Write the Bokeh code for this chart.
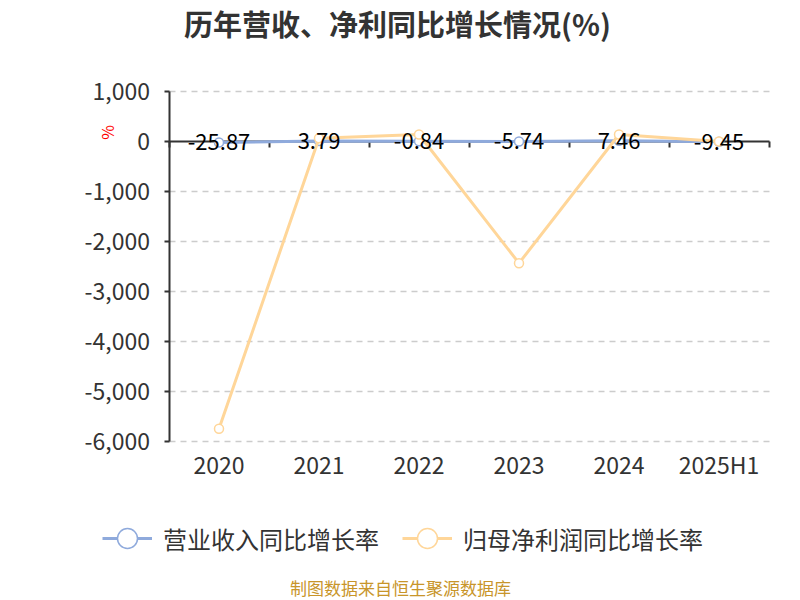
import math
from bokeh.plotting import figure
from bokeh.models import (ColumnDataSource, Range1d, FixedTicker, NumeralTickFormatter,
                          Label, Legend, LegendItem, LinearAxis)
from bokeh.core.properties import value
from bokeh.embed import file_html
from bokeh.resources import INLINE

# ---- data ----
categories = ["2020", "2021", "2022", "2023", "2024", "2025H1"]
revenue_growth = [-25.87, 3.79, -0.84, -5.74, 7.46, -9.45]
net_profit_growth = [-5752.0, 60.0, 134.0, -2440.0, 134.0, -6.0]
y_ticks = [-6000, -5000, -4000, -3000, -2000, -1000, 0, 1000]
title_text = "历年营收、净利同比增长情况(%)"
unit_text = "%"
series_names = ["营业收入同比增长率", "归母净利润同比增长率"]
footer_text = "制图数据来自恒生聚源数据库"

FONT = "Noto Sans CJK SC"
BLUE = "#8FAADC"
ORANGE = "#FFD699"
AXIS = "#333333"

W, H = 800, 600
# plot area in canvas pixels
LEFT, RIGHT, TOP, BOTTOM = 168.5, 768.5, 90.7, 440.7

n = len(categories)
ymin, ymax = min(y_ticks), max(y_ticks)
xpx = (RIGHT - LEFT) / n            # pixels per category
ypx = (BOTTOM - TOP) / (ymax - ymin)  # pixels per unit
x_range = Range1d(-LEFT / xpx, (W - LEFT) / xpx)
y_range = Range1d(ymin - (H - BOTTOM) / ypx, ymax + TOP / ypx)

centers = [i + 0.5 for i in range(n)]
src = ColumnDataSource(dict(
    x=centers,
    rev=revenue_growth,
    net=net_profit_growth,
    lbl=["%.2f" % v for v in revenue_growth],
))

p = figure(width=W, height=H, x_range=x_range, y_range=y_range,
           output_backend="svg", toolbar_location=None,
           x_axis_location=None, y_axis_location=None, min_border=0)
p.min_border_left = p.min_border_right = p.min_border_top = p.min_border_bottom = 0
p.outline_line_color = None
p.background_fill_color = "white"
p.border_fill_color = "white"
p.grid.visible = False

# dashed horizontal grid lines (drawn as long inward ticks of a hidden axis);
# the zero line is the category axis itself
gaxis = LinearAxis(ticker=FixedTicker(ticks=[t for t in y_ticks if t != 0]), fixed_location=0,
                   bounds=(ymin, ymax), level="underlay")
gaxis.axis_line_color = None
gaxis.major_tick_in = int(RIGHT - LEFT)
gaxis.major_tick_out = 0
gaxis.major_tick_line_color = "#cccccc"
gaxis.major_tick_line_width = 1.5
gaxis.major_tick_line_dash = "6 5"
gaxis.minor_tick_line_color = None
gaxis.major_label_text_color = None
p.add_layout(gaxis, "left")

# zero line with category boundary ticks
zaxis = LinearAxis(ticker=FixedTicker(ticks=list(range(n + 1))), fixed_location=0,
                   bounds=(0, n), level="underlay")
zaxis.axis_line_color = AXIS
zaxis.axis_line_width = 2
zaxis.major_tick_line_color = AXIS
zaxis.major_tick_line_width = 2
zaxis.major_tick_out = 6
zaxis.major_tick_in = 0
zaxis.minor_tick_line_color = None
zaxis.major_label_text_color = None
p.add_layout(zaxis, "below")

# y axis
yaxis = LinearAxis(ticker=FixedTicker(ticks=y_ticks), fixed_location=0,
                   bounds=(ymin, ymax), formatter=NumeralTickFormatter(format="0,0"))
yaxis.axis_line_color = AXIS
yaxis.axis_line_width = 2
yaxis.major_tick_line_color = AXIS
yaxis.major_tick_line_width = 2
yaxis.major_tick_out = 5
yaxis.major_tick_in = 0
yaxis.minor_tick_line_color = None
yaxis.major_label_text_font = FONT
yaxis.major_label_text_font_size = "23px"
yaxis.major_label_text_color = AXIS
yaxis.major_label_standoff = 14
p.add_layout(yaxis, "left")

# category axis labels at the bottom of the plot area
xaxis = LinearAxis(ticker=FixedTicker(ticks=centers), fixed_location=ymin,
                   major_label_overrides={c: lab for c, lab in zip(centers, categories)})
xaxis.axis_line_color = None
xaxis.major_tick_line_color = None
xaxis.major_tick_out = 0
xaxis.major_tick_in = 0
xaxis.minor_tick_line_color = None
xaxis.major_label_text_font = FONT
xaxis.major_label_text_font_size = "23px"
xaxis.major_label_text_color = AXIS
xaxis.major_label_standoff = 6
p.add_layout(xaxis, "below")

# series
r1l = p.line("x", "rev", source=src, line_color=BLUE, line_width=3)
r1p = p.scatter("x", "rev", source=src, size=9, marker="circle",
                fill_color="white", line_color=BLUE, line_width=1.5)
r2l = p.line("x", "net", source=src, line_color=ORANGE, line_width=3)
r2p = p.scatter("x", "net", source=src, size=9, marker="circle",
                fill_color="white", line_color=ORANGE, line_width=1.5)

# value labels
p.text(x="x", y="rev", text="lbl", source=src, text_align="center",
       text_baseline="middle", text_font=value(FONT), text_font_size="22px",
       text_color="black")

# title, unit, footer (screen units from the bottom-left of the canvas)
p.add_layout(Label(x=397, y=H - 22, x_units="screen", y_units="screen", text=title_text,
                   text_align="center", text_baseline="middle", text_font=FONT,
                   text_font_size="29px", text_font_style="bold", text_color=AXIS))
p.add_layout(Label(x=106, y=H - 132, x_units="screen", y_units="screen", text=unit_text,
                   text_align="center", text_baseline="middle", text_font=FONT,
                   angle=math.pi / 2, text_font_size="16px", text_color="red"))
p.add_layout(Label(x=400, y=H - 587, x_units="screen", y_units="screen", text=footer_text,
                   text_align="center", text_baseline="middle", text_font=FONT,
                   text_font_size="17px", text_color="#C8952A"))

legend = Legend(items=[LegendItem(label=series_names[0], renderers=[r1l, r1p]),
                       LegendItem(label=series_names[1], renderers=[r2l, r2p])],
                location=(102, H - 563), orientation="horizontal",
                glyph_width=50, glyph_height=50, label_standoff=11, spacing=23,
                padding=0, margin=0, border_line_color=None, background_fill_alpha=0,
                label_text_font=FONT, label_text_font_size="24px", label_text_color=AXIS)
p.add_layout(legend)

open("out.html", "w").write(file_html(p, INLINE))
